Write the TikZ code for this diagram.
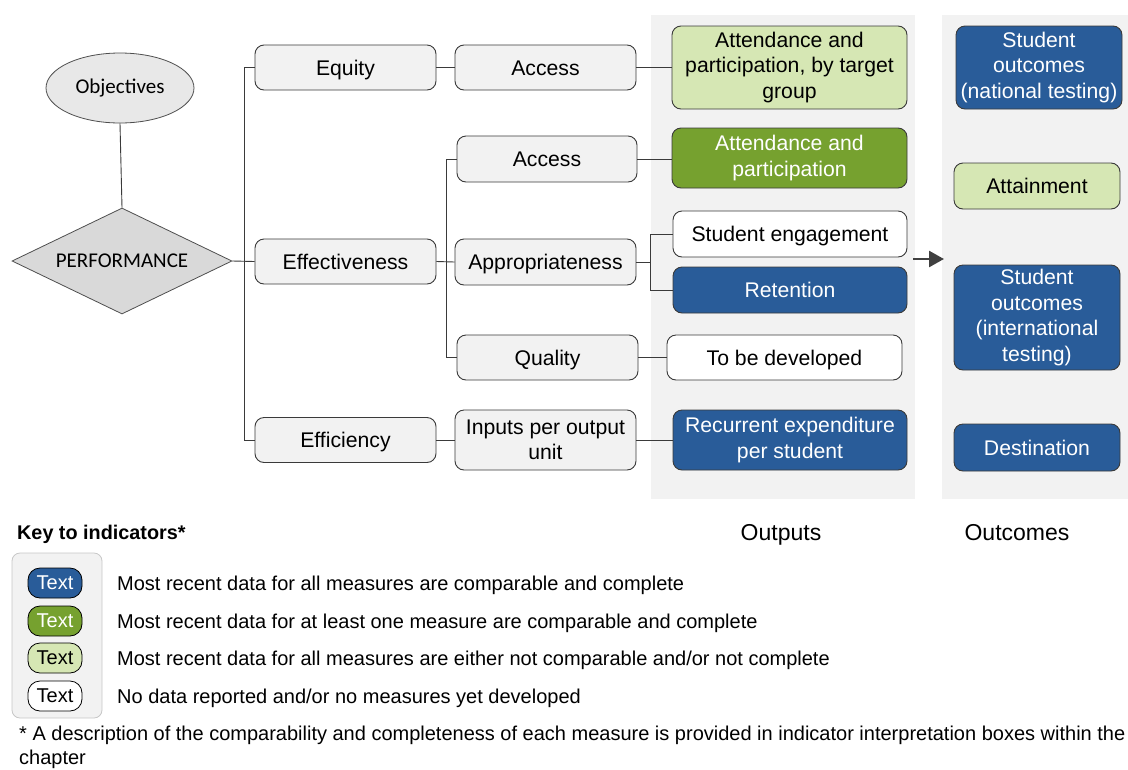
\documentclass[tikz,border=0pt]{standalone}
\usepackage{fontspec}
\usetikzlibrary{shapes.geometric,arrows.meta}
\newfontfamily\arialf{Liberation Sans}
\newfontfamily\calibrif{Carlito}
\definecolor{panelgrey}{HTML}{F2F2F2}
\definecolor{boxgrey}{HTML}{F2F2F2}
\definecolor{navy}{HTML}{295C99}
\definecolor{leaf}{HTML}{76A12F}
\definecolor{pale}{HTML}{D6E7B4}
\definecolor{edge}{HTML}{3A3A3A}
\tikzset{
  box/.style={draw=edge, line width=0.9pt, rounded corners=9pt, align=center,
    inner sep=0pt, font=\arialf\fontsize{21.2}{25.5}\selectfont},
  % single-line labels are centred on their capital height
  oneline/.style={text height=15.2pt, text depth=0pt},
  greybox/.style={box, fill=boxgrey},
  whitebox/.style={box, fill=white},
  bluebox/.style={box, fill=navy, text=white},
  greenbox/.style={box, fill=leaf, text=white},
  palebox/.style={box, fill=pale},
  link/.style={draw=edge, line width=0.9pt},
  pill/.style={draw=black, line width=0.8pt, rounded corners=12pt, minimum width=54,
    minimum height=30, inner sep=0pt, font=\arialf\fontsize{20}{24}\selectfont},
  keytext/.style={anchor=west, inner sep=0pt, font=\arialf\fontsize{20}{24}\selectfont},
  keyline/.style={keytext, text height=14.3pt, text depth=0pt},
  coltitle/.style={anchor=base, inner sep=0pt, font=\arialf\fontsize{23}{27}\selectfont},
}
\begin{document}
\begin{tikzpicture}[x=1pt,y=-1pt]
\useasboundingbox (0,0) rectangle (1128,769);

% column backgrounds
\fill[panelgrey] (651,15) rectangle (915,499);
\fill[panelgrey] (942,15) rectangle (1128,499);

% objectives and performance
\node[ellipse, draw=edge!90, fill=black!9, line width=0.8pt, minimum width=148,
  minimum height=70, inner sep=0pt, font=\calibrif\fontsize{21}{25}\selectfont]
  (obj) at (120,88) {Objectives};
\node[diamond, draw=edge!90, fill=black!15, line width=0.8pt, minimum width=220,
  minimum height=106, inner sep=0pt] (perf) at (122,261) {};
\node[inner sep=0pt, font=\calibrif\fontsize{21}{25}\selectfont] (perftext) at (perf.center) {PERFORMANCE};
\draw[link] (obj.south) -- (perf.north);

% dimensions
\node[greybox, oneline, minimum width=181, minimum height=45] (equity) at (345.5,67.5) {Equity};
\node[greybox, oneline, minimum width=181, minimum height=45] (effect) at (345.5,261.5) {Effectiveness};
\node[greybox, oneline, minimum width=181, minimum height=45] (effic) at (345.5,440) {Efficiency};

% sub-dimensions
\node[greybox, oneline, minimum width=181, minimum height=45] (access1) at (545.5,67.5) {Access};
\node[greybox, oneline, minimum width=180, minimum height=46] (access2) at (547,159) {Access};
\node[greybox, oneline, minimum width=181, minimum height=46] (approp) at (545.5,262) {Appropriateness};
\node[greybox, oneline, minimum width=181, minimum height=45] (quality) at (547.5,357.5) {Quality};
\node[greybox, minimum width=181, minimum height=60] (inputs) at (545.5,440) {Inputs per output\\unit};

% outputs
\node[palebox, minimum width=235, minimum height=83] (attgroup) at (789.5,67.5) {Attendance and\\participation, by target\\group};
\node[greenbox, minimum width=235, minimum height=60] (attend) at (789.5,158) {Attendance and\\participation};
\node[whitebox, oneline, minimum width=234, minimum height=46] (engage) at (790,234) {Student engagement};
\node[bluebox, oneline, minimum width=234, minimum height=46] (retain) at (790,290) {Retention};
\node[whitebox, oneline, minimum width=235, minimum height=45] (tbd) at (784.5,357.5) {To be developed};
\node[bluebox, minimum width=234, minimum height=60] (recur) at (790,440) {Recurrent expenditure\\per student};

% outcomes
\node[bluebox, minimum width=166, minimum height=83] (national) at (1039,67.5) {Student\\outcomes\\(national testing)};
\node[palebox, oneline, minimum width=166, minimum height=46] (attain) at (1037,186) {Attainment};
\node[bluebox, minimum width=166, minimum height=105] (intl) at (1037,317.5) {Student\\outcomes\\(international\\testing)};
\node[bluebox, oneline, minimum width=166, minimum height=47] (dest) at (1037,447.5) {Destination};

% connectors
\draw[link] (equity.west) -- ++(-10,0) |- (effic.west);
\draw[link] (perf.east) -- (effect.west);
\draw[link] (equity.east) -- (access1.west);
\draw[link] (access1.east) -- (attgroup.west);
\draw[link] (access2.west) -- ++(-10,0) |- (quality.west);
\draw[link] (effect.east) -- (approp.west);
\draw[link] (access2.east) -- (access2.east -| attend.west);
\draw[link] (engage.west) -- ++(-22,0) |- (retain.west);
\draw[link] (approp.east) -- (approp.east -| 651,0);
\draw[link] (quality.east) -- (tbd.west);
\draw[link] (effic.east) -- (inputs.west);
\draw[link] (inputs.east) -- (recur.west);

% outputs lead to outcomes
\coordinate (arrfrom) at (913,259);
\coordinate (arrto) at (944,259);
\draw[draw=black!75, line width=2.6pt, -{Triangle[length=15pt,width=16pt]}] (arrfrom) -- (arrto);

% column titles
\node[coltitle] (outlbl) at (781,540) {Outputs};
\node[coltitle] (outclbl) at (1017,540) {Outcomes};

% key
\node[anchor=west, inner sep=0pt, font=\arialf\bfseries\fontsize{19.8}{24}\selectfont] (keytitle) at (17,534) {Key to indicators*};
\draw[fill=panelgrey, draw=black!22, line width=0.8pt, rounded corners=8pt] (12,553) rectangle (102,718);
\node[pill, fill=navy, text=white] (k1) at (55,583) {Text};
\node[pill, fill=leaf, text=white] (k2) at (55,621) {Text};
\node[pill, fill=pale] (k3) at (55,658) {Text};
\node[pill, fill=white] (k4) at (55,696) {Text};
\node[keyline] (t1) at (117,583) {Most recent data for all measures are comparable and complete};
\node[keyline] (t2) at (117,621) {Most recent data for at least one measure are comparable and complete};
\node[keyline] (t3) at (117,658) {Most recent data for all measures are either not comparable and/or not complete};
\node[keyline] (t4) at (117,696) {No data reported and/or no measures yet developed};
\node[keytext, align=left] (note) at (19,747) {* A description of the comparability and completeness of each measure is provided in indicator interpretation boxes within the\\chapter};
\end{tikzpicture}
\end{document}
